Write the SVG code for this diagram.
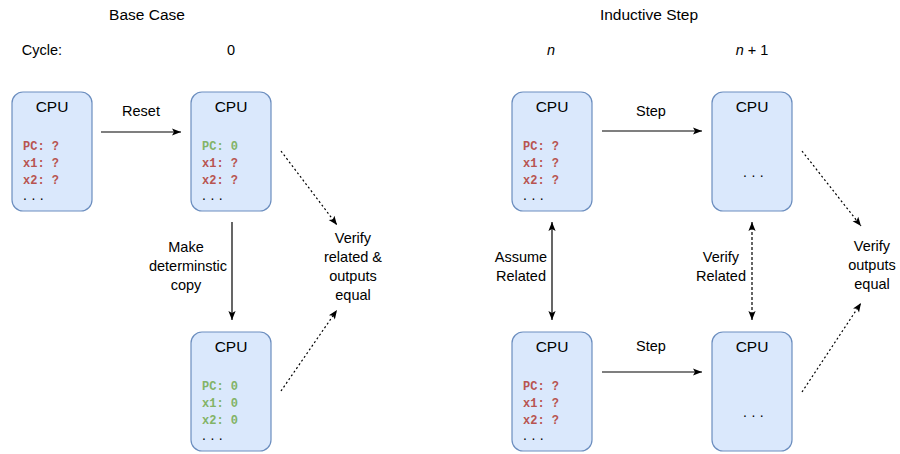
<svg xmlns="http://www.w3.org/2000/svg" width="900" height="454" viewBox="0 0 900 454">
<style>
  .box { fill: #dae8fc; stroke: #6c8ebf; stroke-width: 1.2; }
  .t { font-family: "Liberation Sans", "DejaVu Sans", sans-serif; font-size: 14.5px; fill: #000; text-anchor: middle; }
  .h { font-size: 15.5px; }
  .m { font-family: "Liberation Mono", "DejaVu Sans Mono", monospace; font-size: 12px; font-weight: bold; }
  .red { fill: #b85450; }
  .grn { fill: #82b366; }
  .dots { font-family: "Liberation Sans", sans-serif; font-size: 14px; letter-spacing: 4.5px; fill: #000; }
  .ln { stroke: #000; stroke-width: 1.2; fill: none; }
  .dot { stroke-dasharray: 2 2.5; }
  .dash { stroke-dasharray: 3 2; }
  .it { font-style: italic; }
</style>
<defs>
  <marker id="ah" viewBox="-10 -5 11 10" refX="0" refY="0" markerWidth="11" markerHeight="10" markerUnits="userSpaceOnUse" orient="auto-start-reverse">
    <path d="M -9 -3.6 L 0 0 L -9 3.6 L -7 0 z" fill="#000"/>
  </marker>
</defs>

<!-- headers -->
<text class="t h" x="147" y="20">Base Case</text>
<text class="t h" x="649" y="20">Inductive Step</text>
<text class="t" x="42" y="55">Cycle:</text>
<text class="t" x="231" y="55">0</text>
<text class="t it" x="551" y="55">n</text>
<text class="t" x="752" y="55"><tspan class="it">n</tspan> + 1</text>

<!-- nodes -->
<g id="cpu-base-init">
  <rect class="box" x="12" y="92" width="80" height="119" rx="11"/>
  <text class="t h" x="52" y="112">CPU</text>
  <text class="m red" x="23" y="150">PC: ?</text>
  <text class="m red" x="23" y="167">x1: ?</text>
  <text class="m red" x="23" y="184">x2: ?</text>
  <text class="dots" x="23" y="200">...</text>
</g>
<g id="cpu-base-reset">
  <rect class="box" x="191" y="92" width="80" height="119" rx="11"/>
  <text class="t h" x="231" y="112">CPU</text>
  <text class="m grn" x="202" y="150">PC: 0</text>
  <text class="m red" x="202" y="167">x1: ?</text>
  <text class="m red" x="202" y="184">x2: ?</text>
  <text class="dots" x="202" y="200">...</text>
</g>
<g id="cpu-base-copy">
  <rect class="box" x="191" y="332" width="80" height="119" rx="11"/>
  <text class="t h" x="231" y="352">CPU</text>
  <text class="m grn" x="202" y="390">PC: 0</text>
  <text class="m grn" x="202" y="407">x1: 0</text>
  <text class="m grn" x="202" y="424">x2: 0</text>
  <text class="dots" x="202" y="440">...</text>
</g>
<g id="cpu-ind-n-top">
  <rect class="box" x="512" y="92" width="80" height="119" rx="11"/>
  <text class="t h" x="552" y="112">CPU</text>
  <text class="m red" x="523" y="150">PC: ?</text>
  <text class="m red" x="523" y="167">x1: ?</text>
  <text class="m red" x="523" y="184">x2: ?</text>
  <text class="dots" x="523" y="200">...</text>
</g>
<g id="cpu-ind-n1-top">
  <rect class="box" x="712" y="92" width="80" height="119" rx="11"/>
  <text class="t h" x="752" y="112">CPU</text>
  <text class="dots" x="743" y="177">...</text>
</g>
<g id="cpu-ind-n-bot">
  <rect class="box" x="512" y="332" width="80" height="119" rx="11"/>
  <text class="t h" x="552" y="352">CPU</text>
  <text class="m red" x="523" y="390">PC: ?</text>
  <text class="m red" x="523" y="407">x1: ?</text>
  <text class="m red" x="523" y="424">x2: ?</text>
  <text class="dots" x="523" y="440">...</text>
</g>
<g id="cpu-ind-n1-bot">
  <rect class="box" x="712" y="332" width="80" height="119" rx="11"/>
  <text class="t h" x="752" y="352">CPU</text>
  <text class="dots" x="743" y="417">...</text>
</g>
<g id="verify-base">
  <text class="t" x="353" y="243">Verify</text>
  <text class="t" x="353" y="262">related &amp;</text>
  <text class="t" x="353" y="281">outputs</text>
  <text class="t" x="353" y="300">equal</text>
</g>
<g id="verify-ind">
  <text class="t" x="872" y="251">Verify</text>
  <text class="t" x="872" y="270">outputs</text>
  <text class="t" x="872" y="289">equal</text>
</g>

<!-- connectors -->
<g id="connectors">
  <path class="ln" d="M101 132 L181 132" marker-end="url(#ah)"/>
  <text class="t" x="141" y="116">Reset</text>
  <path class="ln" d="M232 222 L232 320" marker-end="url(#ah)"/>
  <text class="t" x="186" y="252">Make</text>
  <text class="t" x="188" y="271">determinstic</text>
  <text class="t" x="186" y="290">copy</text>
  <path class="ln dot" d="M281 151 L337 225" marker-end="url(#ah)"/>
  <path class="ln dot" d="M281 391 L337 310" marker-end="url(#ah)"/>

  <path class="ln" d="M602 131 L702 131" marker-end="url(#ah)"/>
  <text class="t" x="651" y="116">Step</text>
  <path class="ln" d="M602 372 L702 372" marker-end="url(#ah)"/>
  <text class="t" x="651" y="351">Step</text>
  <path class="ln" d="M552 222 L552 320" marker-start="url(#ah)" marker-end="url(#ah)"/>
  <text class="t" x="521" y="262">Assume</text>
  <text class="t" x="521" y="281">Related</text>
  <path class="ln dash" d="M752 222 L752 320" marker-start="url(#ah)" marker-end="url(#ah)"/>
  <text class="t" x="721" y="262">Verify</text>
  <text class="t" x="721" y="281">Related</text>
  <path class="ln dot" d="M802 151 L861 226" marker-end="url(#ah)"/>
  <path class="ln dot" d="M802 392 L861 303" marker-end="url(#ah)"/>
</g>
</svg>
